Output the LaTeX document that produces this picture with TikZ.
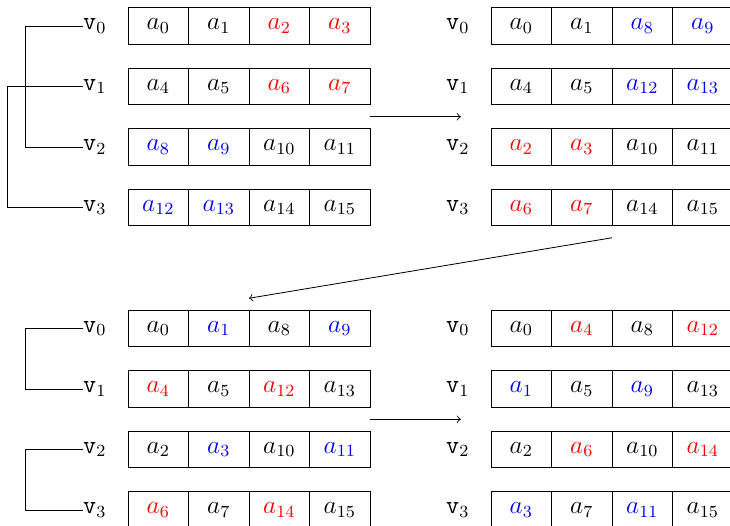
\documentclass[tikz,border=0pt]{standalone}
\begin{document}
\begin{tikzpicture}[font=\large,
    cell/.style={draw,minimum width=1cm,minimum height=0.6cm,inner sep=0pt,outer sep=0pt},
    vlab/.style={inner sep=0pt}]
\useasboundingbox (-2.116,0.43) rectangle (9.95,-8.248);

% first exchange: rows 0,1 swap halves with rows 2,3
\begin{scope}
    \foreach \r/\row in {0/{0/black,1/black,2/red,3/red},
                         1/{4/black,5/black,6/red,7/red},
                         2/{8/blue,9/blue,10/black,11/black},
                         3/{12/blue,13/blue,14/black,15/black}}{
        \node[vlab] (vA\r) at (-0.55,-\r) {$\mathtt{v}_\r$};
        \foreach \t/\col [count=\i from 0] in \row
            \node[cell,text=\col] (A\r\i) at (\i+0.5,-\r) {$a_{\t}$};
    }
    \draw (vA0.west) -- ++(-0.95,0) |- (vA2.west);
    \draw (vA1.west) -- ++(-1.25,0) |- (vA3.west);
\end{scope}

\begin{scope}[xshift=6cm]
    \foreach \r/\row in {0/{0/black,1/black,8/blue,9/blue},
                         1/{4/black,5/black,12/blue,13/blue},
                         2/{2/red,3/red,10/black,11/black},
                         3/{6/red,7/red,14/black,15/black}}{
        \node[vlab] (vB\r) at (-0.55,-\r) {$\mathtt{v}_\r$};
        \foreach \t/\col [count=\i from 0] in \row
            \node[cell,text=\col] (B\r\i) at (\i+0.5,-\r) {$a_{\t}$};
    }
\end{scope}

% second exchange: neighbouring rows swap odd/even columns
\begin{scope}[yshift=-5cm]
    \foreach \r/\row in {0/{0/black,1/blue,8/black,9/blue},
                         1/{4/red,5/black,12/red,13/black},
                         2/{2/black,3/blue,10/black,11/blue},
                         3/{6/red,7/black,14/red,15/black}}{
        \node[vlab] (vC\r) at (-0.55,-\r) {$\mathtt{v}_\r$};
        \foreach \t/\col [count=\i from 0] in \row
            \node[cell,text=\col] (C\r\i) at (\i+0.5,-\r) {$a_{\t}$};
    }
    \draw (vC0.west) -- ++(-0.95,0) |- (vC1.west);
    \draw (vC2.west) -- ++(-0.95,0) |- (vC3.west);
\end{scope}

\begin{scope}[xshift=6cm,yshift=-5cm]
    \foreach \r/\row in {0/{0/black,4/red,8/black,12/red},
                         1/{1/blue,5/black,9/blue,13/black},
                         2/{2/black,6/red,10/black,14/red},
                         3/{3/blue,7/black,11/blue,15/black}}{
        \node[vlab] (vD\r) at (-0.55,-\r) {$\mathtt{v}_\r$};
        \foreach \t/\col [count=\i from 0] in \row
            \node[cell,text=\col] (D\r\i) at (\i+0.5,-\r) {$a_{\t}$};
    }
\end{scope}

\coordinate (s1) at (4,-1.5);   \coordinate (e1) at (5.5,-1.5);
\coordinate (s2) at (8,-3.5);   \coordinate (e2) at (2,-4.5);
\coordinate (s3) at (4,-6.5);   \coordinate (e3) at (5.5,-6.5);
\draw[->] (s1) -- (e1);
\draw[->] (s2) -- (e2);
\draw[->] (s3) -- (e3);
\end{tikzpicture}
\end{document}
